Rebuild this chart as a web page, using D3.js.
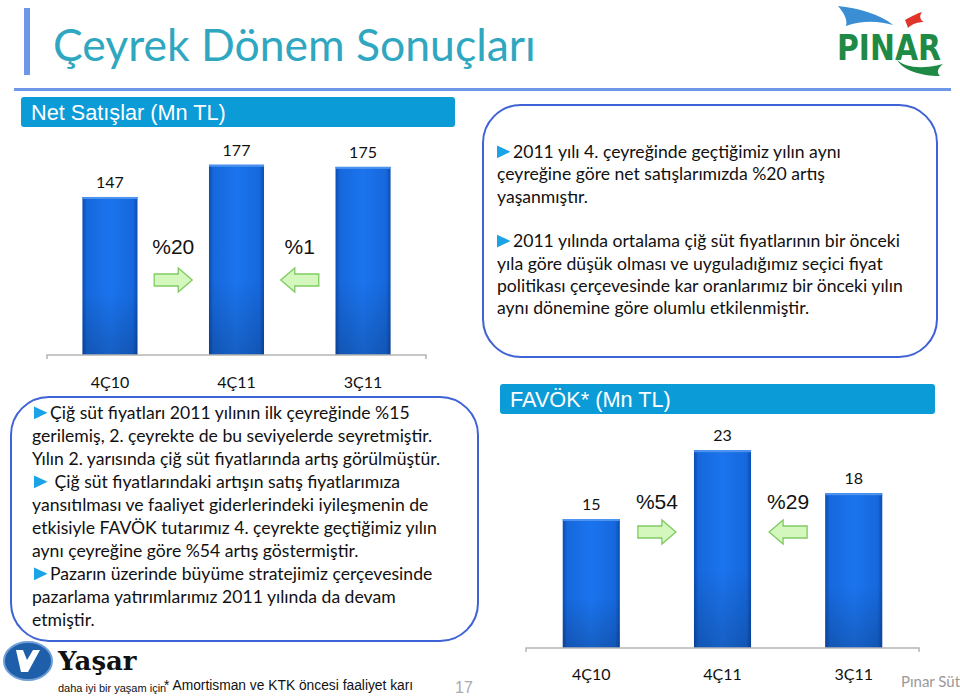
<!DOCTYPE html>
<html><head><meta charset="utf-8">
<script src="https://cdn.jsdelivr.net/npm/d3@7"></script>
<style>body{margin:0;background:#fff;}svg{display:block;}</style>
</head><body>
<script>
// ---- data ----
const categories = ["4Ç10", "4Ç11", "3Ç11"];
const netSales = [147, 177, 175];
const netSalesChanges = ["%20", "%1"];
const ebitda = [15, 23, 18];
const ebitdaChanges = ["%54", "%29"];
const title = "Çeyrek Dönem Sonuçları";
const salesTitle = "Net Satışlar (Mn TL)";
const ebitdaTitle = "FAVÖK* (Mn TL)";
const rightText = [
  [true, "2011 yılı 4. çeyreğinde geçtiğimiz yılın aynı"],
  [false, "çeyreğine göre net satışlarımızda %20 artış"],
  [false, "yaşanmıştır."],
  [false, ""],
  [true, "2011 yılında ortalama çiğ süt fiyatlarının bir önceki"],
  [false, "yıla göre düşük olması ve uyguladığımız seçici fiyat"],
  [false, "politikası çerçevesinde kar oranlarımız bir önceki yılın"],
  [false, "aynı dönemine göre olumlu etkilenmiştir."]
];
const leftText = [
  [true, "Çiğ süt fiyatları 2011 yılının ilk çeyreğinde %15"],
  [false, "gerilemiş, 2. çeyrekte de bu seviyelerde seyretmiştir."],
  [false, "Yılın 2. yarısında çiğ süt fiyatlarında artış görülmüştür."],
  [true, " Çiğ süt fiyatlarındaki artışın satış fiyatlarımıza"],
  [false, "yansıtılması ve faaliyet giderlerindeki iyileşmenin de"],
  [false, "etkisiyle FAVÖK tutarımız 4. çeyrekte geçtiğimiz yılın"],
  [false, "aynı çeyreğine göre %54 artış göstermiştir."],
  [true, "Pazarın üzerinde büyüme stratejimiz çerçevesinde"],
  [false, "pazarlama yatırımlarımız 2011 yılında da devam"],
  [false, "etmiştir."]
];
const footnote = "* Amortisman ve KTK öncesi faaliyet karı";
const pageNo = "17";
const company = "Pınar Süt";

const W = 960, H = 697;
const svg = d3.select("body").append("svg").attr("width", W).attr("height", H);
const defs = svg.append("defs");
const g1 = defs.append("linearGradient").attr("id", "barH").attr("x1", 0).attr("x2", 1).attr("y1", 0).attr("y2", 0);
[[0, "#0b4cb0"], [0.08, "#1668dc"], [0.5, "#1b74ee"], [0.92, "#1668dc"], [1, "#0b4cb0"]].forEach(s => g1.append("stop").attr("offset", s[0]).attr("stop-color", s[1]));
const g2 = defs.append("linearGradient").attr("id", "barV").attr("x1", 0).attr("x2", 0).attr("y1", 0).attr("y2", 1);
[[0, "#000", 0], [0.6, "#000", 0], [1, "#000", 0.18]].forEach(s => g2.append("stop").attr("offset", s[0]).attr("stop-color", s[1]).attr("stop-opacity", s[2]));

const CAL = "Lato, 'Open Sans', sans-serif";
const ARI = "'Liberation Sans', Arial, sans-serif";

// ---- header ----
svg.append("rect").attr("x", 24).attr("y", 8).attr("width", 6).attr("height", 67).attr("fill", "#6e97ea");
svg.append("rect").attr("x", 14).attr("y", 88).attr("width", 937).attr("height", 3).attr("fill", "#6e97ea");
svg.append("text").attr("x", 53).attr("y", 61).attr("font-family", CAL).attr("font-size", 44.5).attr("fill", "#2fa7c0").text(title);

// PINAR logo
const logo = svg.append("g");
logo.append("path").attr("d", "M838,6 C858,8 880,14 893,25 C880,21 862,20 846,26 C848,19 843,12 838,6 Z").attr("fill", "#3a8fd4");
logo.append("path").attr("d", "M905,20 C912,16 918,13 922,12 C919,16 920,20 924,22 C918,22 912,24 908,28 C907,25 906,22 905,20 Z").attr("fill", "#e0352b");
logo.append("text").attr("x", 889).attr("y", 60).attr("text-anchor", "middle").attr("font-family", "'DejaVu Sans Condensed', 'DejaVu Sans', sans-serif").attr("font-weight", "bold").attr("font-size", 36).attr("fill", "#1f8a45").attr("textLength", 104).attr("lengthAdjust", "spacingAndGlyphs").text("PINAR");
logo.append("path").attr("d", "M897,60 C905,67 920,70 943,64 C938,68 936,72 940,76 C920,76 903,70 897,60 Z").attr("fill", "#1f8a45");

// ---- chart function ----
function barChart(opt) {
  const g = svg.append("g");
  g.append("rect").attr("x", opt.hx).attr("y", opt.hy).attr("width", opt.hw).attr("height", 30).attr("rx", 3).attr("fill", "#0b9bd7");
  g.append("text").attr("x", opt.hx + 10).attr("y", opt.hy + 23).attr("font-family", ARI).attr("font-size", 21.7).attr("fill", "#fff").text(opt.title);
  const x = d3.scaleBand().domain(categories).range([opt.x0, opt.x1]).paddingInner(0.565).paddingOuter(0.28);
  const y = d3.scaleLinear().domain([0, opt.ymax]).range([opt.base, opt.base - opt.hgt]);
  g.selectAll("rect.bar").data(opt.values).join("rect").attr("class", "bar")
    .attr("x", (d, i) => x(categories[i])).attr("width", x.bandwidth())
    .attr("y", d => y(d)).attr("height", d => y(0) - y(d)).attr("fill", "url(#barH)");
  g.selectAll("rect.shade").data(opt.values).join("rect").attr("class", "shade")
    .attr("x", (d, i) => x(categories[i])).attr("width", x.bandwidth())
    .attr("y", d => y(d)).attr("height", d => y(0) - y(d)).attr("fill", "url(#barV)");
  g.selectAll("rect.hl").data(opt.values).join("rect").attr("class", "hl")
    .attr("x", (d, i) => x(categories[i])).attr("width", x.bandwidth())
    .attr("y", d => y(d)).attr("height", 2).attr("fill", "#4d93f0");
  // axis
  const axis = d3.axisBottom(x).tickSize(0).tickPadding(opt.tickPad);
  const ag = g.append("g").attr("transform", `translate(0,${opt.base})`).call(axis);
  ag.select(".domain").attr("stroke", "#b5b5b5").attr("stroke-width", 1.5).attr("d", `M${opt.x0},4V0H${opt.x1}V4`);
  ag.selectAll("text").attr("font-family", CAL).attr("font-size", 16).attr("fill", "#111");
  // value labels
  g.selectAll("text.val").data(opt.values).join("text").attr("class", "val")
    .attr("x", (d, i) => x(categories[i]) + x.bandwidth() / 2).attr("y", d => y(d) - opt.valOff)
    .attr("text-anchor", "middle").attr("font-family", CAL).attr("font-size", 16).attr("fill", "#111").text(d => d);
  // change labels + arrows
  opt.changes.forEach((c, i) => {
    const a = x(categories[i]) + x.bandwidth(), b = x(categories[i + 1]);
    const cx = (a + b) / 2;
    g.append("text").attr("x", cx).attr("y", opt.chY).attr("text-anchor", "middle").attr("font-family", ARI).attr("font-size", 21).attr("fill", "#111").text(c);
    const ay = opt.arY, dir = i === 0 ? 1 : -1;
    const w = 38, hh = 12, sh = 6, head = 14;
    const x0 = cx - dir * w / 2;
    const pts = [
      [0, -sh], [w - head, -sh], [w - head, -hh], [w, 0], [w - head, hh], [w - head, sh], [0, sh]
    ].map(p => [x0 + dir * p[0], ay + p[1]]);
    g.append("path").attr("d", "M" + pts.map(p => p.join(",")).join("L") + "Z")
      .attr("fill", "#d4f7bd").attr("stroke", "#7fcb62").attr("stroke-width", 1.3);
  });
}

barChart({ title: salesTitle, hx: 21, hy: 97, hw: 434, x0: 47, x1: 426, base: 355, ymax: 200, hgt: 215,
  values: netSales, changes: netSalesChanges, tickPad: 22, valOff: 9, chY: 254, arY: 280 });
barChart({ title: ebitdaTitle, hx: 500, hy: 384, hw: 435, x0: 526, x1: 919, base: 648, ymax: 25, hgt: 215,
  values: ebitda, changes: ebitdaChanges, tickPad: 21, valOff: 9, chY: 509, arY: 532 });

// ---- text boxes ----
function textBox(bx, by, bw, bh, r, lines, tx, ty, lh, fs, bOff) {
  svg.append("rect").attr("x", bx).attr("y", by).attr("width", bw).attr("height", bh).attr("rx", r).attr("ry", r)
    .attr("fill", "#fff").attr("stroke", "#3f63d6").attr("stroke-width", 2);
  const t = svg.append("g");
  lines.forEach((l, i) => {
    const yy = ty + i * lh;
    const bx0 = tx + bOff;
    if (l[0]) t.append("path").attr("d", `M${bx0},${yy - 12.5}L${bx0 + 13.5},${yy - 6.2}L${bx0},${yy + 0.2}Z`).attr("fill", "#1aa3e6");
    t.append("text").attr("x", l[0] ? bx0 + 16 : tx).attr("y", yy).attr("font-family", CAL).attr("font-size", fs).attr("fill", "#111").attr("xml:space", "preserve").text(l[1]);
  });
}
textBox(483, 105, 454, 252, 38, rightText, 497, 158, 22.3, 17.6, 0);
textBox(11, 397, 467, 244, 38, leftText, 32, 419, 23, 17.6, 2);

// ---- footer ----
const yl = svg.append("g");
yl.append("ellipse").attr("cx", 28).attr("cy", 661).attr("rx", 24).attr("ry", 19).attr("fill", "#1f5faa").attr("stroke", "#6f9fd6").attr("stroke-width", 2);
yl.append("path").attr("d", "M16,650 L23,650 L27,660 L33,650 L40,650 L28,672 L21,672 Z").attr("fill", "#fff");
yl.append("text").attr("x", 58).attr("y", 670).attr("font-family", "'DejaVu Serif', serif").attr("font-weight", "bold").attr("font-size", 26).attr("fill", "#111").text("Yaşar");
yl.append("text").attr("x", 58).attr("y", 692).attr("font-family", ARI).attr("font-size", 11).attr("fill", "#111").text("daha iyi bir yaşam için");
svg.append("text").attr("x", 164).attr("y", 690).attr("font-family", ARI).attr("font-size", 13.8).attr("fill", "#111").text(footnote);
svg.append("text").attr("x", 455).attr("y", 693).attr("font-family", ARI).attr("font-size", 16).attr("fill", "#aaa").text(pageNo);
svg.append("text").attr("x", 901).attr("y", 687).attr("font-family", CAL).attr("font-size", 15).attr("fill", "#999").text(company);
</script>
</body></html>
